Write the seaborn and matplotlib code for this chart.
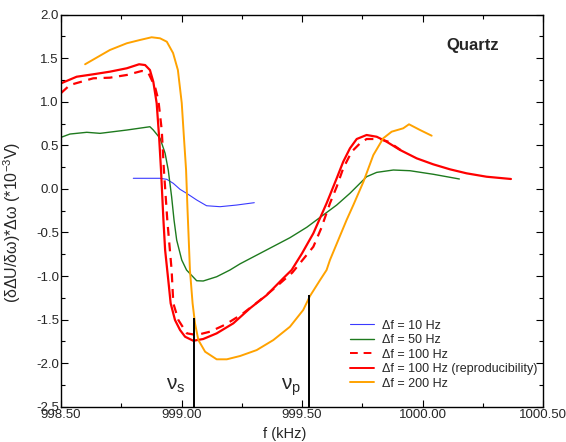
import matplotlib
matplotlib.use("Agg")
import matplotlib.pyplot as plt
import seaborn as sns
import pandas as pd
from matplotlib.ticker import MultipleLocator, FormatStrFormatter
from matplotlib.lines import Line2D

# ---------------- data ----------------
f_10 = [998.800, 998.911, 998.939, 998.966, 998.994, 999.021, 999.063, 999.104, 999.160, 999.229, 999.302]
v_10 = [0.122, 0.122, 0.110, 0.064, -0.005, -0.050, -0.127, -0.193, -0.204, -0.185, -0.158]

f_50 = [998.500, 998.537, 998.607, 998.662, 998.773, 998.869, 998.883, 998.911, 998.932, 998.945,
        998.959, 998.969, 998.980, 999.001, 999.021, 999.063, 999.090, 999.146, 999.201, 999.243,
        999.312, 999.381, 999.450, 999.520, 999.588, 999.644, 999.699, 999.768, 999.810, 999.879,
        999.948, 1000.045, 1000.153]
v_50 = [0.592, 0.630, 0.650, 0.638, 0.676, 0.714, 0.676, 0.581, 0.409, 0.217,
        -0.090, -0.357, -0.587, -0.816, -0.931, -1.054, -1.057, -1.008, -0.931, -0.860,
        -0.760, -0.660, -0.560, -0.440, -0.300, -0.185, -0.050, 0.140, 0.190, 0.217,
        0.209, 0.168, 0.114]

f_100 = [998.500, 998.537, 998.634, 998.703, 998.773, 998.835, 998.862, 998.890, 998.904, 998.918,
         998.927, 998.941, 998.959, 998.966, 998.987, 999.022, 999.063, 999.118, 999.180, 999.250,
         999.320, 999.390, 999.460, 999.547, 999.580, 999.616, 999.644, 999.671, 999.706, 999.741,
         999.768, 999.824, 999.860, 999.910]
v_100 = [1.100, 1.193, 1.270, 1.277, 1.308, 1.354, 1.334, 1.173, 1.020, 0.676,
         0.217, -0.357, -0.931, -1.313, -1.505, -1.658, -1.677, -1.639, -1.560, -1.440,
         -1.290, -1.130, -0.960, -0.664, -0.450, -0.165, 0.025, 0.236, 0.427, 0.524,
         0.573, 0.573, 0.540, 0.445]

f_100r = [998.500, 998.565, 998.634, 998.703, 998.773, 998.824, 998.849, 998.869, 998.883, 998.897,
          998.907, 998.915, 998.925, 998.932, 998.948, 998.955, 998.973, 998.994, 999.015, 999.049,
          999.090, 999.146, 999.215, 999.284, 999.354, 999.422, 999.457, 999.500, 999.547, 999.602,
          999.616, 999.644, 999.671, 999.699, 999.727, 999.768, 999.810, 999.851, 999.907, 999.976,
          1000.045, 1000.114, 1000.183, 1000.266, 1000.367]
v_100r = [1.212, 1.288, 1.316, 1.346, 1.385, 1.431, 1.422, 1.365, 1.231, 0.983,
          0.600, 0.217, -0.357, -0.700, -1.123, -1.313, -1.505, -1.620, -1.697, -1.743,
          -1.723, -1.658, -1.543, -1.371, -1.218, -1.026, -0.931, -0.740, -0.510, -0.165,
          -0.070, 0.122, 0.312, 0.466, 0.573, 0.619, 0.599, 0.542, 0.447, 0.351,
          0.282, 0.225, 0.179, 0.140, 0.114]

f_200 = [998.600, 998.703, 998.773, 998.828, 998.876, 998.911, 998.939, 998.965, 998.985, 999.001,
         999.010, 999.019, 999.025, 999.031, 999.035, 999.046, 999.056, 999.070, 999.098, 999.146,
         999.188, 999.243, 999.312, 999.381, 999.450, 999.505, 999.533, 999.575, 999.602, 999.616,
         999.685, 999.713, 999.755, 999.796, 999.837, 999.872, 999.920, 999.944, 999.990, 1000.038]
v_200 = [1.431, 1.595, 1.672, 1.710, 1.741, 1.729, 1.690, 1.560, 1.365, 0.986,
         0.596, 0.217, -0.240, -0.650, -0.931, -1.313, -1.543, -1.735, -1.869, -1.956,
         -1.956, -1.918, -1.850, -1.735, -1.582, -1.390, -1.230, -1.046, -0.931, -0.816,
         -0.357, -0.185, 0.083, 0.389, 0.581, 0.657, 0.696, 0.742, 0.676, 0.611]

series_labels = ["\u0394f = 10 Hz", "\u0394f = 50 Hz", "\u0394f = 100 Hz",
                 "\u0394f = 100 Hz (reproducibility)", "\u0394f = 200 Hz"]

# resonance markers
marker_labels = [r"$\nu_{\rm s}$", r"$\nu_{\rm p}$"]
marker_f = [999.05, 999.53]
marker_top = [-1.48, -1.22]

# ---------------- styling ----------------
sns.set_theme(style="ticks")
plt.rcParams["font.family"] = ["Liberation Sans", "DejaVu Sans"]
plt.rcParams["mathtext.fontset"] = "custom"
plt.rcParams["mathtext.rm"] = "Liberation Sans"
plt.rcParams["mathtext.it"] = "Liberation Sans"

fig = plt.figure(figsize=(5.66, 4.42), dpi=100)
ax = fig.add_axes([61 / 566, 1 - 406.7 / 442, 482 / 566, 392 / 442])

styles = [
    dict(color="#3a3aff", lw=0.8, ls="-"),
    dict(color="#1e7a1e", lw=1.0, ls="-"),
    dict(color="#ff0000", lw=1.6, ls=(0, (4, 3))),
    dict(color="#ff0000", lw=1.6, ls="-"),
    dict(color="#ffa200", lw=1.4, ls="-"),
]
data = [(f_10, v_10), (f_50, v_50), (f_100, v_100), (f_100r, v_100r), (f_200, v_200)]

handles = []
for (fx, vy), lab, st in zip(data, series_labels, styles):
    df = pd.DataFrame({"f": fx, "v": vy})
    sns.lineplot(data=df, x="f", y="v", ax=ax, color=st["color"], linewidth=st["lw"],
                 linestyle=st["ls"], sort=False, estimator=None)
    handles.append(Line2D([], [], color=st["color"], lw=st["lw"] if st["lw"] < 1.5 else 1.4,
                          linestyle=st["ls"], label=lab))

ax.vlines(marker_f, -2.5, marker_top, color="black", lw=1.4)
ax.text(marker_f[0] - 0.075, -2.30, marker_labels[0], fontsize=15, ha="center", va="baseline")
ax.text(marker_f[1] - 0.075, -2.30, marker_labels[1], fontsize=15, ha="center", va="baseline")

ax.text(1000.21, 1.65, "Quartz", fontsize=12, fontweight="bold", ha="center", va="center")

ax.set_xlim(998.5, 1000.5)
ax.set_ylim(-2.5, 2.0)
ax.xaxis.set_major_locator(MultipleLocator(0.5))
ax.xaxis.set_minor_locator(MultipleLocator(0.25))
ax.yaxis.set_major_locator(MultipleLocator(0.5))
ax.yaxis.set_minor_locator(MultipleLocator(0.25))
ax.xaxis.set_major_formatter(FormatStrFormatter("%.2f"))
ax.yaxis.set_major_formatter(FormatStrFormatter("%.1f"))
ax.tick_params(which="both", direction="in", top=True, right=True, color="black", width=0.8)
ax.tick_params(which="major", length=5, labelsize=9.5, pad=1.5)
ax.tick_params(which="minor", length=3)
ax.tick_params(axis="x", pad=1.5)
for sp in ax.spines.values():
    sp.set_color("black")
    sp.set_linewidth(1.0)

ax.set_xlabel("f (kHz)", fontsize=10.5)
ax.xaxis.set_label_coords(0.464, -0.051)
ax.set_ylabel("(\u03b4\u0394U/\u03b4\u03c9)*\u0394\u03c9 (*10$^{-3}$V)", fontsize=11.5)
ax.yaxis.set_label_coords(-0.079, 0.469)

ax.legend(handles=handles, loc="upper left", bbox_to_anchor=(0.59, 0.235), frameon=False,
          fontsize=9, handlelength=1.9, handletextpad=0.6, labelspacing=0.2,
          borderaxespad=0)

fig.savefig("out.png", dpi=100)
